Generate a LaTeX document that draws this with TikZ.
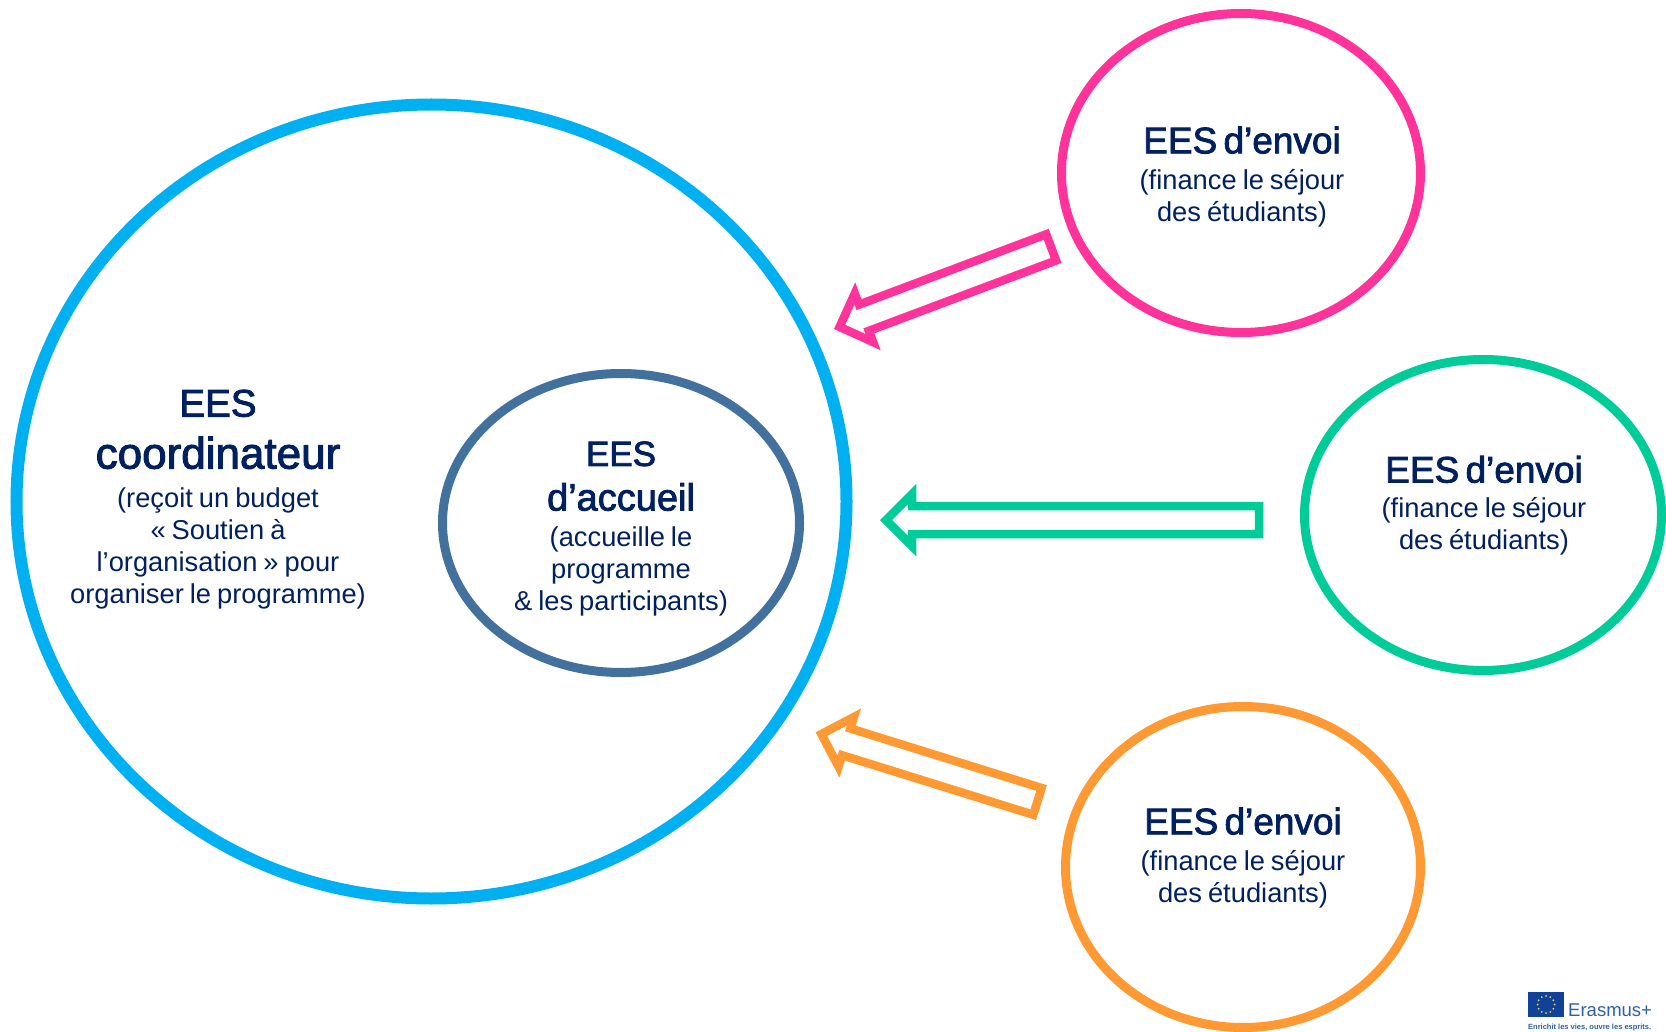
\documentclass[tikz,border=0pt]{standalone}
\usepackage{fontspec}
\setmainfont{Liberation Sans}
\newfontfamily\hdfont[FakeBold=2.2]{Liberation Sans}
\usetikzlibrary{shapes.geometric}
\definecolor{navy}{HTML}{002060}
\definecolor{bluec}{HTML}{00B0F0}
\definecolor{steel}{HTML}{41719C}
\definecolor{pinkc}{HTML}{FF3399}
\definecolor{greenc}{HTML}{00CC99}
\definecolor{orangec}{HTML}{FF9933}
\definecolor{eublue}{HTML}{10429A}
\definecolor{eustar}{HTML}{E8D840}
\definecolor{eutext}{HTML}{2F5FA8}
\tikzset{
  lbl/.style={text=navy,align=center,inner sep=0pt,text width=340pt},
  ring/.style={line width=9pt},
  harrow/.style={line width=8.5pt,miter limit=10,line join=miter,fill=white}
}
\newcommand{\hdtxt}[3]{{\hdfont\fontsize{#1}{#2}\selectfont\spaceskip=.17em\relax #3\par}}
\newcommand{\subtxt}[1]{{\fontsize{27.3}{32}\selectfont\spaceskip=.22em\relax #1\par}}
\newcommand{\blockarrow}[1]{(0,0) -- (26,-26) -- (26,-14) -- (#1,-14) -- (#1,14) -- (26,14) -- (26,26) -- cycle}
\begin{document}
\begin{tikzpicture}[x=1pt,y=-1pt]
\useasboundingbox (0,0) rectangle (1666,1032);
\fill[white] (0,0) rectangle (1666,1032);
\draw[bluec,line width=12pt] (431.5,501.5) ellipse [x radius=415,y radius=397];
\draw[steel,ring] (621,523) ellipse [x radius=178.5,y radius=149.5];
\draw[pinkc,ring] (1241,173) ellipse [x radius=179.5,y radius=159.5];
\draw[greenc,ring] (1483,515) ellipse [x radius=178.5,y radius=155.5];
\draw[orangec,ring] (1243,867) ellipse [x radius=177.5,y radius=160.5];
\node[lbl] (coord) at (218,499.5) {\hdtxt{38.5}{51}{EES}\hdtxt{44}{52}{coordinateur}\vspace{7pt}\subtxt{(reçoit un budget}\subtxt{« Soutien à}\subtxt{l’organisation » pour}\subtxt{organiser le programme)}};
\node[lbl] (acc) at (621,529) {\hdtxt{35}{44}{EES}\hdtxt{38}{44.6}{d’accueil}\vspace{4.3pt}\subtxt{(accueille le}\subtxt{programme}\subtxt{\& les participants)}};
\node[lbl] (e1) at (1242,177) {\hdtxt{37}{44}{EES d’envoi}\vspace{4.5pt}\subtxt{(finance le séjour}\subtxt{des étudiants)}};
\node[lbl] (e2) at (1484,505.5) {\hdtxt{37}{44}{EES d’envoi}\vspace{3pt}\subtxt{(finance le séjour}\subtxt{des étudiants)}};
\node[lbl] (e3) at (1243,858) {\hdtxt{37}{44}{EES d’envoi}\vspace{4.5pt}\subtxt{(finance le séjour}\subtxt{des étudiants)}};
\draw[pinkc,harrow,shift={(839.6,326.9)},rotate=20.6] \blockarrow{226};
\draw[greenc,harrow,shift={(886,520)}] \blockarrow{373};
\draw[orangec,harrow,shift={(821.4,734.1)},rotate=-17.3] \blockarrow{226.3};
% logo
\fill[eublue] (1528,992) rectangle (1564,1017);
\foreach \a in {0,30,...,330}
  \fill[eustar] ({1546+8.5*cos(\a)},{1004.5+8.5*sin(\a)}) circle (1pt);
\node[anchor=base west,inner sep=0pt,text=eutext,font=\fontsize{18.5}{18}\selectfont] (eplus) at (1568,1016) {Erasmus+};
\node[anchor=base west,inner sep=0pt,text=eutext,font=\fontsize{7.5}{9}\selectfont\bfseries] (motto) at (1528,1029) {Enrichit les vies, ouvre les esprits.};
\end{tikzpicture}
\end{document}
